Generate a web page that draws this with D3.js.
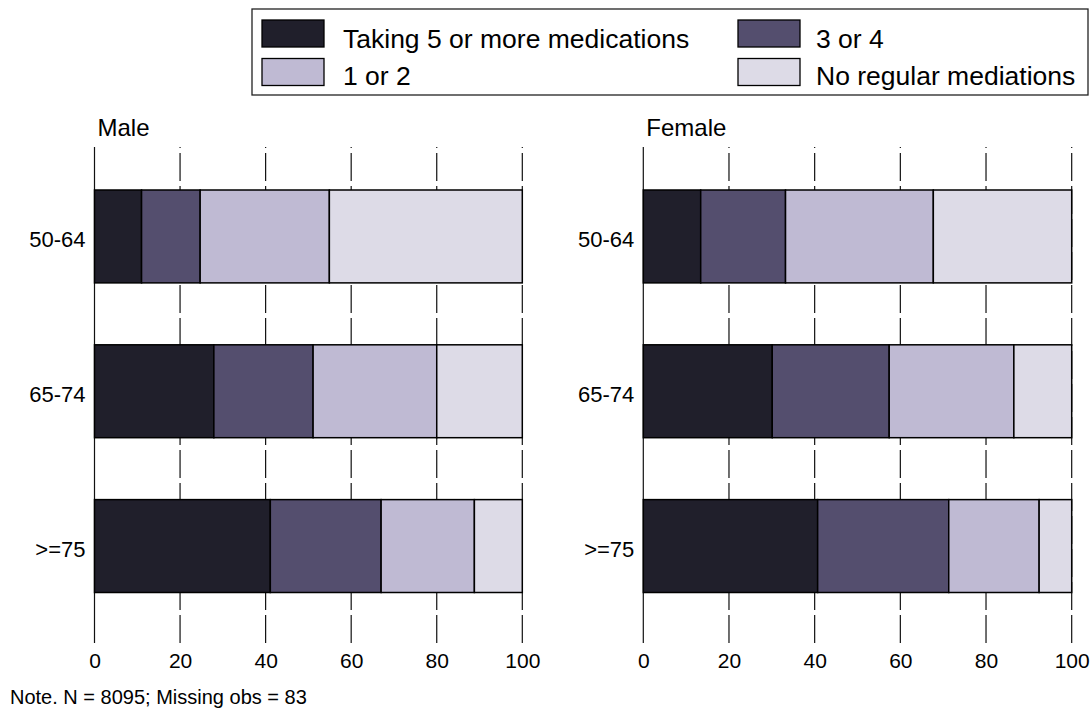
<!DOCTYPE html>
<html>
<head>
<meta charset="utf-8">
<script src="https://cdn.jsdelivr.net/npm/d3@7"></script>
<style>
  html, body { margin: 0; padding: 0; background: #fff; }
  svg text { font-family: "Liberation Sans", Arial, sans-serif; fill: #000; }
</style>
</head>
<body>
<svg id="chart" width="1091" height="709"></svg>
<script>
// ---- data ----
const categories = ["50-64", "65-74", ">=75"];
const seriesNames = ["Taking 5 or more medications", "3 or 4", "1 or 2", "No regular mediations"];
const seriesKeys = ["five", "three", "one", "none"];
const seriesColors = ["#201f2b", "#544e6e", "#bfbad3", "#dddbe7"];
const panels = ["Male", "Female"];

// percentages by age group (rows follow categories)
const maleFivePlus = [11.0, 27.9, 41.1];
const maleThreeFour = [13.7, 23.2, 25.9];
const maleOneTwo = [30.2, 28.9, 21.8];
const maleNone = [45.1, 20.0, 11.2];

const femaleFivePlus = [13.4, 30.1, 40.7];
const femaleThreeFour = [19.8, 27.3, 30.6];
const femaleOneTwo = [34.5, 29.1, 21.1];
const femaleNone = [32.3, 13.5, 7.6];

const xTicks = [0, 20, 40, 60, 80, 100];
const noteText = "Note. N = 8095; Missing obs = 83";

// ---- build tables ----
function table(a, b, c, d) {
  return categories.map((cat, i) => ({ cat, five: a[i], three: b[i], one: c[i], none: d[i] }));
}
const panelData = {
  Male: table(maleFivePlus, maleThreeFour, maleOneTwo, maleNone),
  Female: table(femaleFivePlus, femaleThreeFour, femaleOneTwo, femaleNone)
};

const svg = d3.select("#chart");
const plotTop = 147, plotBottom = 643;
const panelRanges = { Male: [94.5, 522.3], Female: [643.3, 1071.7] };

const y = d3.scaleBand().domain(categories).range([190, 592.5]).paddingInner(0.4).paddingOuter(0);
const color = d3.scaleOrdinal().domain(seriesKeys).range(seriesColors);
const stack = d3.stack().keys(seriesKeys);

panels.forEach(p => {
  const x = d3.scaleLinear().domain([0, 100]).range(panelRanges[p]);
  const g = svg.append("g");

  // gridlines (dashed) and zero line (solid)
  g.selectAll("line.grid").data(xTicks).join("line")
    .attr("x1", d => x(d)).attr("x2", d => x(d))
    .attr("y1", plotBottom).attr("y2", plotTop)
    .attr("stroke", "#111").attr("stroke-width", 1.2)
    .attr("stroke-dasharray", d => d === 0 ? null : "28,5");

  // bars
  const series = stack(panelData[p]);
  g.selectAll("g.series").data(series).join("g")
    .attr("fill", d => color(d.key))
    .selectAll("rect").data(d => d).join("rect")
      .attr("x", d => x(d[0]))
      .attr("width", d => x(d[1]) - x(d[0]))
      .attr("y", d => y(d.data.cat))
      .attr("height", y.bandwidth())
      .attr("stroke", "#000").attr("stroke-width", 1.5);

  // x tick labels
  const axis = d3.axisBottom(x).tickValues(xTicks).tickSize(0).tickPadding(0).tickFormat(d3.format("d"));
  const ag = g.append("g").attr("transform", `translate(0,${plotBottom})`).call(axis);
  ag.select(".domain").remove();
  ag.selectAll("text")
    .attr("y", 25).attr("dy", null)
    .style("font-size", "21px")
    .style("font-family", '"Liberation Sans", Arial, sans-serif')
    .attr("fill", "#000");

  // category labels
  g.selectAll("text.cat").data(categories).join("text")
    .attr("class", "cat")
    .attr("x", x(0) - 9)
    .attr("y", d => y(d) + y.bandwidth() / 2 + 10.5)
    .attr("text-anchor", "end")
    .style("font-size", "22px")
    .text(d => d);

  // panel title
  g.append("text")
    .attr("x", x(0) + 3).attr("y", 136)
    .style("font-size", "24px")
    .text(p);
});

// legend
const leg = svg.append("g");
leg.append("rect").attr("x", 252).attr("y", 9).attr("width", 836).attr("height", 86)
  .attr("fill", "#fff").attr("stroke", "#222").attr("stroke-width", 1.3);
const legPos = [
  { sx: 262, sy: 20, tx: 343, ty: 48 },
  { sx: 738, sy: 20, tx: 816, ty: 48 },
  { sx: 262, sy: 58.5, tx: 343, ty: 85 },
  { sx: 738, sy: 58.5, tx: 816, ty: 85 }
];
seriesKeys.forEach((k, i) => {
  const pos = legPos[i];
  leg.append("rect").attr("x", pos.sx).attr("y", pos.sy).attr("width", 62).attr("height", 27)
    .attr("fill", color(k)).attr("stroke", "#000").attr("stroke-width", 1.3);
  leg.append("text").attr("x", pos.tx).attr("y", pos.ty)
    .style("font-size", "26.5px").text(seriesNames[i]);
});

// note
svg.append("text").attr("x", 10).attr("y", 704).style("font-size", "20px").text(noteText);
</script>
</body>
</html>
